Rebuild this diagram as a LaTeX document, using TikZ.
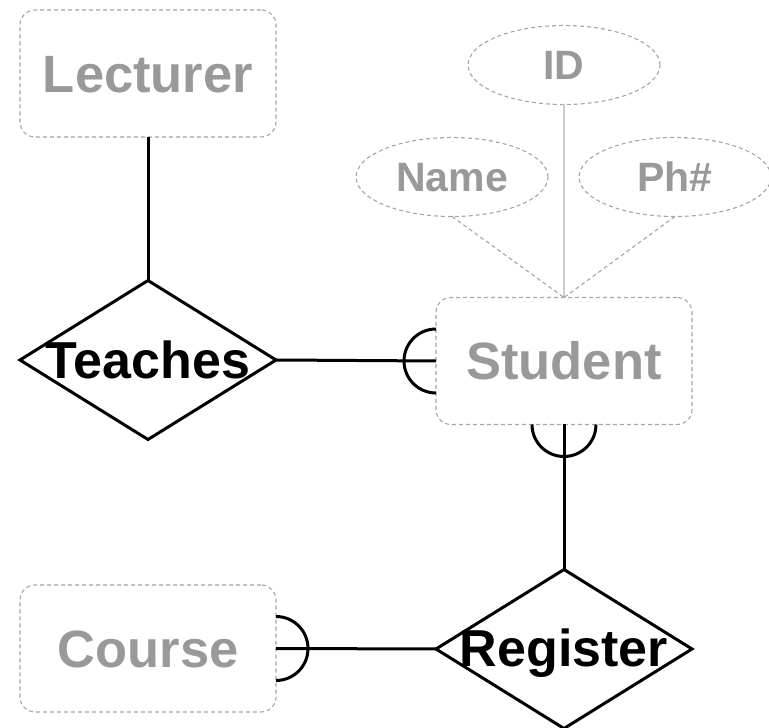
\documentclass[tikz,border=0pt]{standalone}
\usepackage{fontspec}
\setmainfont{Liberation Sans}
\usetikzlibrary{shapes.geometric}
\definecolor{enttext}{RGB}{153,153,153}
\definecolor{entborder}{RGB}{165,165,165}
\definecolor{idline}{RGB}{205,205,205}
\begin{document}
\begin{tikzpicture}[x=1pt,y=1pt,
  entity/.style={draw=entborder, line width=1.1pt, dash pattern=on 4pt off 3pt,
    rounded corners=15pt, minimum width=256pt, minimum height=127pt,
    inner sep=0pt, outer sep=0pt, text=enttext,
    font=\fontsize{52.5}{60}\selectfont\bfseries, text height=37.5pt, text depth=0pt},
  attrib/.style={ellipse, draw=entborder, line width=1.1pt, dash pattern=on 4pt off 3pt,
    minimum width=192pt, minimum height=79pt, inner sep=0pt, outer sep=0pt,
    text=enttext, font=\fontsize{41}{48}\selectfont\bfseries,
    text height=29pt, text depth=0pt},
  relship/.style={diamond, draw=black, line width=3pt, minimum width=256pt,
    minimum height=159pt, inner sep=0pt, outer sep=0pt},
  reltext/.style={inner sep=0pt, text=black,
    font=\fontsize{52}{60}\selectfont\bfseries, text height=37pt, text depth=0pt},
  link/.style={draw=black, line width=3pt},
  attlink/.style={draw=entborder, line width=1.1pt, dash pattern=on 4pt off 3pt},
  keylink/.style={draw=idline, line width=1.2pt}]
\useasboundingbox (0,0) rectangle (769,728);

% entities
\node[entity] (lecturer) at (148,654.5) {Lecturer};
\node[entity] (student) at (564,367) {Student};
\node[entity] (course) at (148,79.5) {Course};

% attributes of Student
\node[attrib] (id) at (564,663) {ID};
\node[attrib] (name) at (452,551) {Name};
\node[attrib] (phone) at (675,551) {Ph\#};

% relationships
\node[relship] (teaches) at (148,368) {};
\node[reltext] (teaches-t) at (teaches.center) {Teaches};
\node[relship] (register) at (564,79) {};
\node[reltext] (register-t) at ([yshift=0.5pt]register.center) {Register};

% attribute links
\draw[keylink] (id.south) -- (student.north);
\draw[attlink] (name.south) -- (student.north);
\draw[attlink] (phone.south) -- (student.north);

% relationship links
\draw[link] (lecturer.south) -- (teaches.north);
\draw[link] (teaches.east) -- (student.west);
\draw[link] (student.south) -- (register.north);
\draw[link] (course.east) -- (register.west);

% "many" arcs
\draw[link] ([yshift=32pt]student.west) arc[start angle=90, end angle=270, radius=32pt];
\draw[link] ([xshift=-32pt]student.south) arc[start angle=180, end angle=360, radius=32pt];
\draw[link] ([yshift=32pt]course.east) arc[start angle=90, end angle=-90, radius=32pt];
\end{tikzpicture}
\end{document}
